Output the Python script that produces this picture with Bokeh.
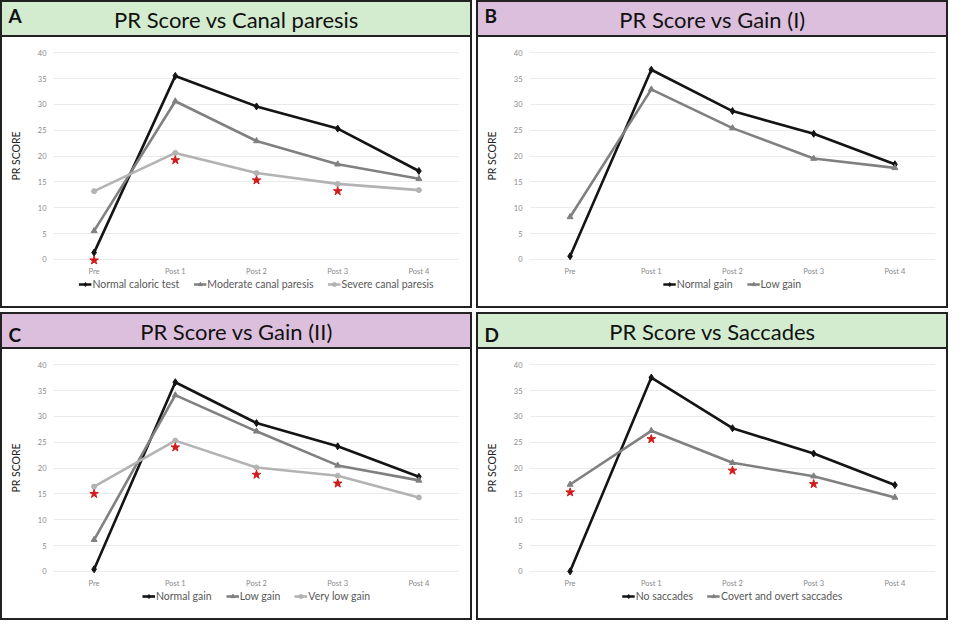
from bokeh.plotting import figure
from bokeh.models import FactorRange, Range1d, FixedTicker, Legend, LegendItem, Label, Div
from bokeh.layouts import column, row
from bokeh.embed import file_html
from bokeh.resources import INLINE

# ---------------- data ----------------
categories = ["Pre", "Post 1", "Post 2", "Post 3", "Post 4"]
y_ticks = [0, 5, 10, 15, 20, 25, 30, 35, 40]

# A: PR Score vs Canal paresis
a_normal = [1.3, 35.5, 29.6, 25.3, 17.1]
a_moderate = [5.5, 30.6, 22.9, 18.4, 15.6]
a_severe = [13.2, 20.6, 16.7, 14.6, 13.4]
a_star_cats = ["Pre", "Post 1", "Post 2", "Post 3"]
a_star_vals = [-0.2, 19.2, 15.3, 13.2]

# B: PR Score vs Gain (I)
b_normal = [0.6, 36.7, 28.7, 24.3, 18.4]
b_low = [8.2, 32.9, 25.4, 19.5, 17.7]
b_star_cats = []
b_star_vals = []

# C: PR Score vs Gain (II)
c_normal = [0.4, 36.6, 28.7, 24.2, 18.3]
c_low = [6.1, 34.1, 27.1, 20.5, 17.6]
c_verylow = [16.4, 25.3, 20.1, 18.5, 14.3]
c_star_cats = ["Pre", "Post 1", "Post 2", "Post 3"]
c_star_vals = [15.0, 24.0, 18.7, 17.0]

# D: PR Score vs Saccades
d_none = [0.0, 37.5, 27.7, 22.8, 16.7]
d_covert = [16.8, 27.2, 21.0, 18.4, 14.3]
d_star_cats = ["Pre", "Post 1", "Post 2", "Post 3"]
d_star_vals = [15.3, 25.6, 19.5, 16.9]

# ---------------- styles ----------------
FONT = "Lato"
GREEN = "#d3ecd0"
PURPLE = "#dcbfdc"
BORDER = "#222222"
STYLES = {
    "dark": dict(color="#141414", marker="diamond", size=7),
    "mid": dict(color="#808080", marker="triangle", size=6),
    "light": dict(color="#b3b3b3", marker="circle", size=5),
}

PW, TH, PH, LH = 468, 33, 241, 28
FL, FR = 51, 11


def make_panel(letter, title, band, letter_y, series, star_cats, star_vals):
    # title band
    tf = figure(width=PW, height=TH, x_range=Range1d(0, 1), y_range=Range1d(0, 1),
                x_axis_type=None, y_axis_type=None, toolbar_location=None,
                output_backend="svg", min_border=0)
    tf.grid.visible = False
    tf.outline_line_color = None
    tf.background_fill_color = band
    tf.border_fill_color = band
    tf.add_layout(Label(x=0.5, y=0.5, text=title, text_align="center",
                        text_baseline="middle", text_font=FONT,
                        text_font_size="22px", text_color="#111111"))
    tf.add_layout(Label(x=6 / PW, y=letter_y, text=letter, text_align="left",
                        text_baseline="middle", text_font=FONT, text_font_style="bold",
                        text_font_size="19px", text_color="#111111"))
    band_box = column(tf, styles={"background-color": band})

    sep = Div(width=PW, height=2, margin=0, styles={"background-color": BORDER})

    # plot
    p = figure(width=PW, height=PH, x_range=FactorRange(*categories, range_padding=0),
               y_range=Range1d(-1, 41), toolbar_location=None, output_backend="svg",
               min_border_left=FL, min_border_right=FR, min_border_top=10,
               min_border_bottom=12)
    p.outline_line_color = None
    p.xgrid.visible = False
    p.ygrid.grid_line_color = "#ebebeb"
    p.yaxis.ticker = FixedTicker(ticks=y_ticks)
    for ax in (p.xaxis, p.yaxis):
        ax.axis_line_color = None
        ax.major_tick_line_color = None
        ax.minor_tick_line_color = None
        ax.major_tick_out = 0
        ax.major_tick_in = 0
        ax.minor_tick_out = 0
        ax.minor_tick_in = 0
        ax.major_label_text_font = FONT
        ax.major_label_text_font_size = "7.5px"
        ax.major_label_text_color = "#8a8a8a"
    p.xaxis.major_label_standoff = 2
    p.yaxis.major_label_standoff = 7
    p.yaxis.axis_label = "PR SCORE"
    p.yaxis.axis_label_text_font = FONT
    p.yaxis.axis_label_text_font_size = "10.5px"
    p.yaxis.axis_label_text_font_style = "normal"
    p.yaxis.axis_label_text_color = "#222222"
    p.yaxis.axis_label_standoff = 13

    # legend strip: same series, drawn outside its visible range so only the key shows
    lf = figure(width=PW, height=LH, x_range=FactorRange(*categories, range_padding=0),
                y_range=Range1d(1000, 1001), x_axis_type=None, y_axis_type=None,
                toolbar_location=None, output_backend="svg",
                min_border_left=FL, min_border_right=FR, min_border_top=0,
                min_border_bottom=0)
    lf.grid.visible = False
    lf.outline_line_color = None

    items = []
    for name, vals, sty in series:
        st = STYLES[sty]
        p.line(categories, vals, line_color=st["color"], line_width=2.6)
        p.scatter(categories, vals, marker=st["marker"], size=st["size"],
                  fill_color=st["color"], line_color=st["color"])
        lr = lf.line(categories, vals, line_color=st["color"], line_width=2.6)
        sr = lf.scatter(categories, vals, marker=st["marker"], size=st["size"],
                        fill_color=st["color"], line_color=st["color"])
        items.append(LegendItem(label=name, renderers=[lr, sr]))
    if star_cats:
        p.scatter(star_cats, star_vals, marker="star", size=9,
                  fill_color="#d11a1a", line_color="#d11a1a")

    leg = Legend(items=items, orientation="horizontal", location="top_center",
                 label_text_font=FONT, label_text_font_size="10.5px",
                 label_text_color="#595959", glyph_width=13, glyph_height=10,
                 label_height=12, label_standoff=1, spacing=14, padding=2, margin=0,
                 border_line_color=None, background_fill_alpha=0)
    lf.add_layout(leg)

    return column(band_box, sep, p, lf, spacing=0,
                  styles={"border": "2px solid " + BORDER})


pa = make_panel("A", "PR Score vs Canal paresis", GREEN, 0.62,
                [("Normal caloric test", a_normal, "dark"),
                 ("Moderate canal paresis", a_moderate, "mid"),
                 ("Severe canal paresis", a_severe, "light")],
                a_star_cats, a_star_vals)
pb = make_panel("B", "PR Score vs Gain (I)", PURPLE, 0.62,
                [("Normal gain", b_normal, "dark"),
                 ("Low gain", b_low, "mid")],
                b_star_cats, b_star_vals)
pc = make_panel("C", "PR Score vs Gain (II)", PURPLE, 0.38,
                [("Normal gain", c_normal, "dark"),
                 ("Low gain", c_low, "mid"),
                 ("Very low gain", c_verylow, "light")],
                c_star_cats, c_star_vals)
pd_ = make_panel("D", "PR Score vs Saccades", GREEN, 0.38,
                 [("No saccades", d_none, "dark"),
                  ("Covert and overt saccades", d_covert, "mid")],
                 d_star_cats, d_star_vals)

layout = column(row(pa, pb, spacing=4), row(pc, pd_, spacing=4), spacing=4)

open("out.html", "w").write(file_html(layout, INLINE))
